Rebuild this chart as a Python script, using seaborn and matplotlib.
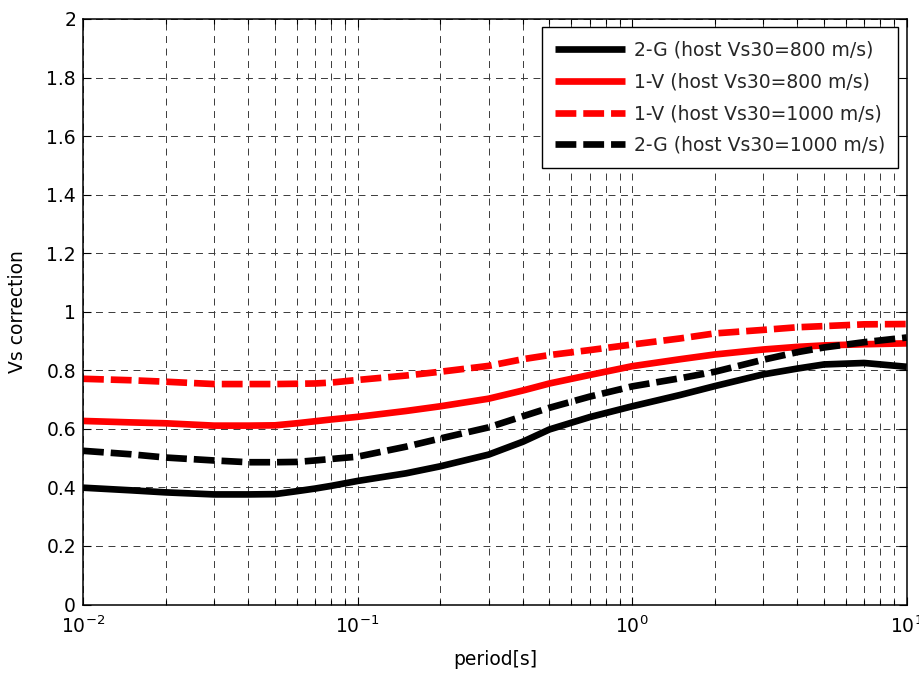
import numpy as np
import pandas as pd
import matplotlib
matplotlib.use("Agg")
import matplotlib.pyplot as plt
import matplotlib.ticker as mticker
import seaborn as sns

period = [0.01, 0.015, 0.02, 0.03, 0.04, 0.05, 0.06, 0.07, 0.08, 0.1, 0.15, 0.2,
          0.3, 0.4, 0.5, 0.7, 1.0, 1.5, 2.0, 3.0, 4.0, 5.0, 7.0, 10.0]
g2_800 = [0.399, 0.390, 0.383, 0.376, 0.376, 0.377, 0.387, 0.396, 0.405, 0.422, 0.448, 0.472,
          0.512, 0.556, 0.598, 0.640, 0.677, 0.716, 0.746, 0.786, 0.806, 0.820, 0.825, 0.812]
v1_800 = [0.627, 0.622, 0.619, 0.611, 0.611, 0.612, 0.619, 0.626, 0.632, 0.641, 0.661, 0.677,
          0.703, 0.731, 0.755, 0.784, 0.814, 0.838, 0.854, 0.871, 0.880, 0.885, 0.889, 0.892]
v1_1000 = [0.771, 0.766, 0.761, 0.753, 0.753, 0.753, 0.754, 0.755, 0.758, 0.767, 0.782, 0.795,
           0.815, 0.838, 0.852, 0.869, 0.888, 0.909, 0.926, 0.938, 0.947, 0.951, 0.957, 0.958]
g2_1000 = [0.525, 0.513, 0.502, 0.492, 0.486, 0.486, 0.487, 0.492, 0.497, 0.505, 0.539, 0.567,
           0.605, 0.643, 0.672, 0.710, 0.745, 0.773, 0.795, 0.836, 0.862, 0.878, 0.896, 0.912]

labels = ["2-G (host Vs30=800 m/s)", "1-V (host Vs30=800 m/s)",
          "1-V (host Vs30=1000 m/s)", "2-G (host Vs30=1000 m/s)"]
series = [g2_800, v1_800, v1_1000, g2_1000]
colors = ["black", "red", "red", "black"]
solid = "-"
dashed = (0, (15, 5))
styles = [solid, solid, dashed, dashed]

sns.set_theme(style="white")
FS = 13.5
plt.rcParams["font.family"] = ["DejaVu Sans"]
plt.rcParams["mathtext.fontset"] = "dejavusans"
plt.rcParams["mathtext.default"] = "regular"
plt.rcParams["lines.scale_dashes"] = False

fig = plt.figure(figsize=(9.2, 6.75), dpi=100)
ax = fig.add_axes([83 / 920, 1 - 604.5 / 675, (906.7 - 83) / 920, (604.5 - 19) / 675])

for lab, vals, c, ls in zip(labels, series, colors, styles):
    df = pd.DataFrame({"period": period, "corr": vals})
    sns.lineplot(data=df, x="period", y="corr", ax=ax, color=c, linewidth=4.8,
                 linestyle=ls, label=lab, solid_capstyle="butt", dash_capstyle="butt",
                 solid_joinstyle="round")

ax.set_xscale("log")
ax.set_xlim(0.01, 10)
ax.set_ylim(0, 2)
ax.set_yticks(np.arange(0, 2.01, 0.2))
ax.yaxis.set_major_formatter(mticker.FuncFormatter(lambda v, p: "%g" % round(v, 2)))
ax.xaxis.set_minor_locator(mticker.LogLocator(base=10, subs=np.arange(2, 10), numticks=20))
ax.xaxis.set_minor_formatter(mticker.NullFormatter())

grid_kw = dict(color="#3a3a3a", linewidth=0.7, linestyle=(0, (5, 4)))
ax.grid(True, which="major", axis="both", **grid_kw)
ax.grid(True, which="minor", axis="x", **grid_kw)
ax.set_axisbelow(True)

for s in ax.spines.values():
    s.set_color("black")
    s.set_linewidth(1.1)

ax.tick_params(which="both", direction="in", top=True, right=True, bottom=True, left=True,
               color="black", labelsize=FS, labelcolor="black")
ax.tick_params(which="major", length=5.5, width=0.8)
ax.tick_params(which="minor", length=3.5, width=0.8)
ax.tick_params(axis="x", which="major", pad=8)
ax.tick_params(axis="y", which="major", pad=5)

ax.set_xlabel("period[s]", fontsize=FS, color="black", labelpad=9)
ax.set_ylabel("Vs correction", fontsize=FS, color="black", labelpad=14)

leg = ax.legend(loc="upper right", fontsize=FS, frameon=True, fancybox=False,
                framealpha=1, edgecolor="black", handlelength=3.75, handletextpad=0.45,
                labelspacing=0.68, borderpad=0.7, borderaxespad=0.45)
leg.get_frame().set_linewidth(1.0)

fig.savefig("out.png", dpi=100)
